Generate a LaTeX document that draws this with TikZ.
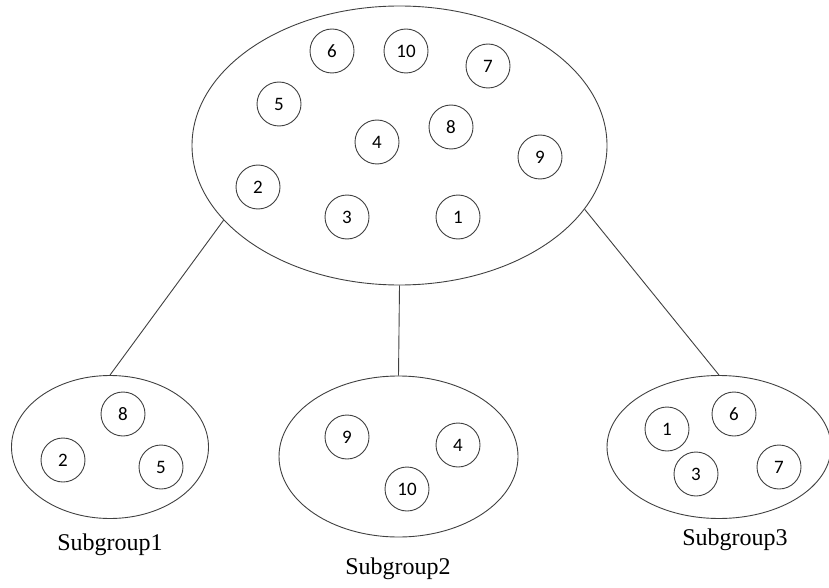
\documentclass[tikz,border=0pt]{standalone}
\usepackage{fontspec}
\setmainfont{Liberation Serif}
\newfontfamily\numfont{Carlito}
\usetikzlibrary{shapes,positioning}

\begin{document}
\begin{tikzpicture}[x=1pt,y=-1pt,
            line/.style={draw=black!75,line width=.9pt},
            member/.style={line,circle,minimum size=44,inner sep=0,font=\numfont\fontsize{19}{22}\selectfont},
            groupset/.style={line,ellipse,inner sep=0},
            lab/.style={font=\fontsize{24}{28}\selectfont,inner sep=0}
          ]
          \useasboundingbox (0,0) rectangle (829,588);

          %main group
          \node[groupset,minimum width=415,minimum height=279] (all) at (399.5,145.5) {};
          \node[member] (m6) at (332,51) {6};
          \node[member] (m10) at (406,51) {10};
          \node[member] (m7) at (488,66) {7};
          \node[member] (m5) at (279,104) {5};
          \node[member] (m4) at (377,142) {4};
          \node[member] (m8) at (451,127) {8};
          \node[member] (m9) at (540,157) {9};
          \node[member] (m2) at (258,187) {2};
          \node[member] (m3) at (347,217) {3};
          \node[member] (m1) at (458,217) {1};

          %subgroups
          \node[groupset,minimum width=197,minimum height=143] (sub1) at (110,447) {};
          \node[member] (s1a) at (123,414) {8};
          \node[member] (s1b) at (63,460) {2};
          \node[member] (s1c) at (161,467) {5};

          \node[groupset,minimum width=239,minimum height=161] (sub2) at (398.5,456.5) {};
          \node[member] (s2a) at (347,437) {9};
          \node[member] (s2b) at (458,445) {4};
          \node[member] (s2c) at (407,489) {10};

          \node[groupset,minimum width=224,minimum height=143] (sub3) at (719,447) {};
          \node[member] (s3a) at (667,429) {1};
          \node[member] (s3b) at (734,414) {6};
          \node[member] (s3c) at (696,474) {3};
          \node[member] (s3d) at (779,467) {7};

          %labels
          \node[lab] (lab1) at (110,545) {Subgroup1};
          \node[lab] (lab2) at (398,569) {Subgroup2};
          \node[lab] (lab3) at (735,540) {Subgroup3};

          \path[line]
          (all.203) edge (sub1.north)
          (all.south) edge (sub2.north)
          (all.341) edge (sub3.north)
          ;

      \end{tikzpicture}
\end{document}
